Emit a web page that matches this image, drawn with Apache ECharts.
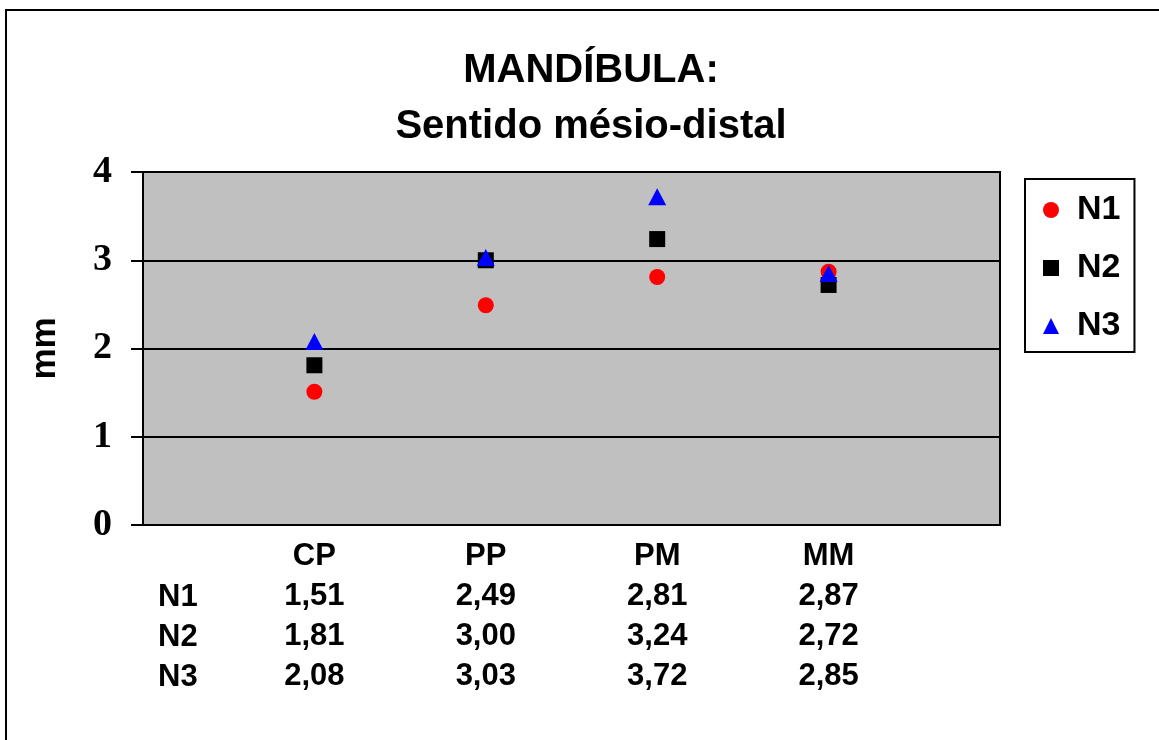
<!DOCTYPE html>
<html>
<head>
<meta charset="utf-8">
<script src="https://cdn.jsdelivr.net/npm/echarts@6/dist/echarts.min.js"></script>
<style>
html,body{margin:0;padding:0;background:#fff;}
#c{width:1159px;height:740px;}
</style>
</head>
<body>
<div id="c"></div>
<script>
var categories = ['CP', 'PP', 'PM', 'MM'];
var seriesNames = ['N1', 'N2', 'N3'];
var n1 = [1.51, 2.49, 2.81, 2.87];
var n2 = [1.81, 3.00, 3.24, 2.72];
var n3 = [2.08, 3.03, 3.72, 2.85];
var yTicks = [0, 1, 2, 3, 4];

var allSeries = [n1, n2, n3];
function fmt(v) { return v.toFixed(2).replace('.', ','); }
function pts(arr) { return arr.map(function (v, i) { return [i + 1, v]; }); }

var chart = echarts.init(document.getElementById('c'));
var tableFont = 'Arial, "Liberation Sans", sans-serif';
chart.setOption({
  animation: false,
  backgroundColor: '#fff',
  title: {
    text: 'MANDÍBULA:\nSentido mésio-distal',
    left: 586,
    top: 38,
    textAlign: 'center',
    textStyle: { fontFamily: tableFont, fontWeight: 'bold', fontSize: 40, lineHeight: 56, color: '#000' }
  },
  legend: {
    orient: 'vertical',
    left: 1025,
    top: 179,
    backgroundColor: '#fff',
    borderColor: '#000',
    borderWidth: 2,
    padding: [11, 14, 6, 18],
    itemWidth: 16,
    itemHeight: 16,
    itemGap: 18,
    textStyle: { fontFamily: tableFont, fontWeight: 'bold', fontSize: 34, lineHeight: 40, color: '#000', padding: [0, 0, 0, 13] },
    data: seriesNames
  },
  grid: {
    left: 143, top: 172, right: 159, bottom: 215,
    show: true, backgroundColor: '#C0C0C0', borderColor: '#000', borderWidth: 2
  },
  xAxis: {
    type: 'value', min: 0, max: 5, interval: 1,
    axisLine: { show: true, lineStyle: { color: '#000', width: 2 } },
    axisTick: { show: false },
    splitLine: { show: false },
    axisLabel: {
      margin: 11,
      fontFamily: tableFont, fontWeight: 'bold', fontSize: 31, lineHeight: 40, color: '#000',
      showMinLabel: true, showMaxLabel: true,
      formatter: function (v) {
        var i = Math.round(v) - 1;
        if (i < 0 || i >= categories.length) return '';
        var lines = [categories[i]];
        allSeries.forEach(function (s) { lines.push(fmt(s[i])); });
        return lines.join('\n');
      }
    }
  },
  yAxis: {
    type: 'value', min: 0, max: 4, interval: 1,
    name: 'mm', nameLocation: 'middle', nameRotate: 90, nameGap: 80,
    nameTextStyle: { fontFamily: tableFont, fontWeight: 'bold', fontSize: 35, color: '#000' },
    axisLine: { show: true, lineStyle: { color: '#000', width: 2 } },
    axisTick: { show: true, inside: false, length: 12, lineStyle: { color: '#000', width: 2 } },
    splitLine: { show: true, lineStyle: { color: '#000', width: 2 } },
    axisLabel: {
      margin: 31,
      fontFamily: '"Liberation Serif", "Times New Roman", serif', fontWeight: 'bold', fontSize: 38, color: '#000',
      formatter: function (v) { return yTicks.indexOf(v) >= 0 ? String(v) : ''; }
    }
  },
  series: [
    { name: seriesNames[0], type: 'scatter', symbol: 'circle', symbolSize: 16, itemStyle: { color: '#FF0000', opacity: 1 }, data: pts(n1), z: 3 },
    { name: seriesNames[1], type: 'scatter', symbol: 'rect', symbolSize: 16, itemStyle: { color: '#000000', opacity: 1 }, data: pts(n2), z: 4 },
    { name: seriesNames[2], type: 'scatter', symbol: 'triangle', symbolSize: [18, 17], itemStyle: { color: '#0000FF', opacity: 1 }, data: pts(n3), z: 5 }
  ],
  graphic: [
    { type: 'rect', silent: true, z: 100, shape: { x: 6, y: 10, width: 1170, height: 760 }, style: { fill: 'none', stroke: '#000', lineWidth: 2 } }
  ].concat(seriesNames.map(function (n, r) {
    return { type: 'text', silent: true, left: 158, top: 597 + r * 40 - 20,
      style: { text: n, font: 'bold 31px ' + tableFont, fill: '#000', lineHeight: 40, verticalAlign: 'middle' } };
  }))
});
</script>
</body>
</html>
